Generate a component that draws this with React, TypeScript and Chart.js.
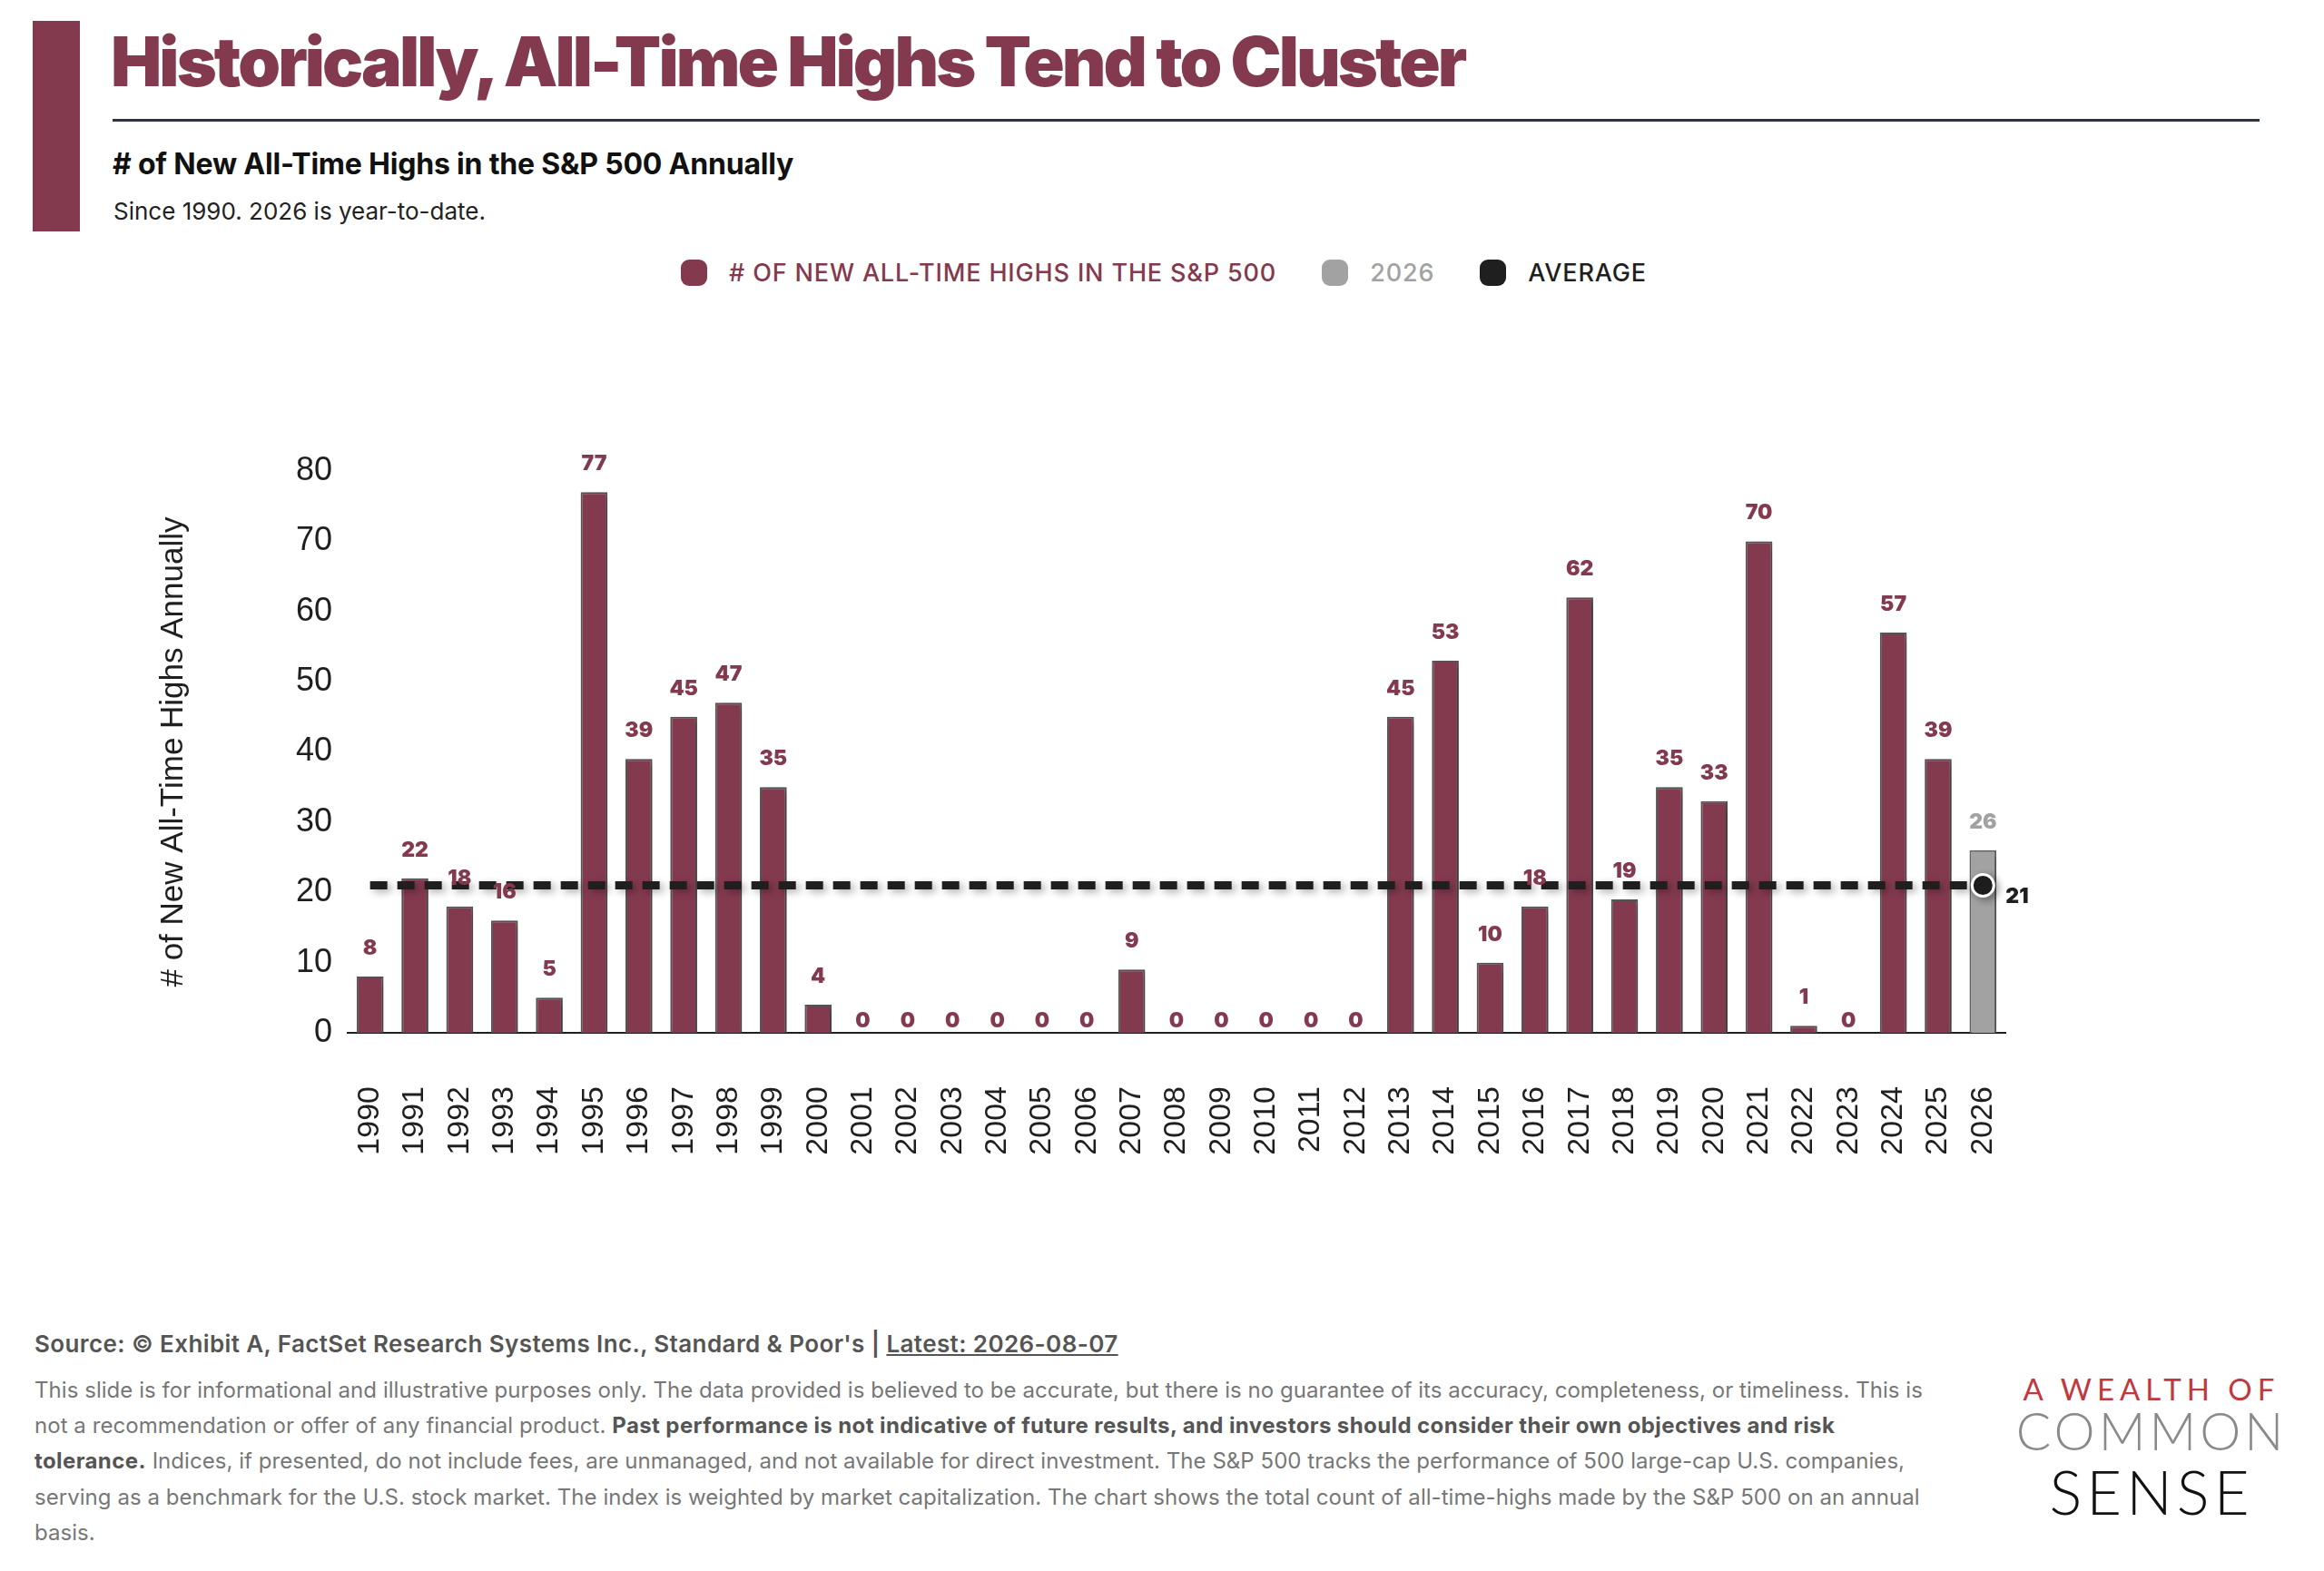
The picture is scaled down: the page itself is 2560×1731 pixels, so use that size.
import React, { useEffect, useRef } from "react";
import { Chart, registerables } from "chart.js";

Chart.register(...registerables);

const years = [
  "1990", "1991", "1992", "1993", "1994", "1995", "1996", "1997", "1998", "1999",
  "2000", "2001", "2002", "2003", "2004", "2005", "2006", "2007", "2008", "2009",
  "2010", "2011", "2012", "2013", "2014", "2015", "2016", "2017", "2018", "2019",
  "2020", "2021", "2022", "2023", "2024", "2025", "2026",
];
// 1990 - 2025 full-year counts
const highs = [
  8, 22, 18, 16, 5, 77, 39, 45, 47, 35,
  4, 0, 0, 0, 0, 0, 0, 9, 0, 0,
  0, 0, 0, 45, 53, 10, 18, 62, 19, 35,
  33, 70, 1, 0, 57, 39,
];
const ytdYear = "2026";
const ytdValue = 26;
const averageValue = 21;
const yTicks = [0, 10, 20, 30, 40, 50, 60, 70, 80];

const MAROON = "#843a4e";
const GRAY = "#a2a2a2";
const BLACK = "#1f1f1f";

const mainData = years.map((y, i) => (y === ytdYear ? null : highs[i]));
const ytdData = years.map((y) => (y === ytdYear ? ytdValue : null));
const avgData = years.map(() => averageValue);

const shadowPlugin = {
  id: "shadow",
  beforeDatasetDraw(chart: any) {
    const ctx = chart.ctx;
    ctx.save();
    ctx.shadowColor = "rgba(0,0,0,0.32)";
    ctx.shadowBlur = 9;
    ctx.shadowOffsetX = 4;
    ctx.shadowOffsetY = 3;
  },
  afterDatasetDraw(chart: any) {
    chart.ctx.restore();
  },
};

const labelPlugin = {
  id: "valueLabels",
  afterDatasetsDraw(chart: any) {
    const ctx = chart.ctx;
    ctx.save();
    chart.data.datasets.forEach((ds: any, di: number) => {
      const meta = chart.getDatasetMeta(di);
      if (ds.type === "line") {
        const n = meta.data.length;
        const pt = meta.data[n - 1];
        ctx.font = "900 23px Inter, 'Liberation Sans', sans-serif";
        ctx.fillStyle = BLACK;
        ctx.textAlign = "left";
        ctx.textBaseline = "middle";
        ctx.fillText(String(ds.data[n - 1]), pt.x + 25, pt.y + 13);
        return;
      }
      meta.data.forEach((el: any, i: number) => {
        const v = ds.data[i];
        if (v === null || v === undefined) return;
        ctx.font = "900 23px Inter, 'Liberation Sans', sans-serif";
        ctx.fillStyle = ds.labelColor;
        ctx.textAlign = "center";
        ctx.textBaseline = "middle";
        const off = v === 0 ? 13 : 31;
        ctx.fillText(String(v), el.x, el.y - off);
      });
    });
    ctx.restore();
  },
};

function ChartCanvas() {
  const ref = useRef<HTMLCanvasElement>(null);
  useEffect(() => {
    if (!ref.current) return;
    const chart = new Chart(ref.current, {
      type: "bar",
      data: {
        labels: years,
        datasets: [
          {
            type: "line",
            label: "Average",
            data: avgData,
            borderColor: BLACK,
            borderWidth: 9,
            borderDash: [19, 11],
            fill: false,
            tension: 0,
            pointRadius: years.map((_, i) => (i === years.length - 1 ? 12 : 0)),
            pointHoverRadius: 0,
            pointBackgroundColor: BLACK,
            pointBorderColor: "#ffffff",
            pointBorderWidth: 3,
            order: 0,
          } as any,
          {
            type: "bar",
            label: "# of New All-Time Highs in the S&P 500",
            data: mainData,
            backgroundColor: MAROON,
            borderColor: "#575757",
            borderWidth: 2,
            barPercentage: 0.6,
            categoryPercentage: 1,
            grouped: false,
            labelColor: MAROON,
            order: 1,
          } as any,
          {
            type: "bar",
            label: "2026",
            data: ytdData,
            backgroundColor: GRAY,
            borderColor: "#666666",
            borderWidth: 2,
            barPercentage: 0.6,
            categoryPercentage: 1,
            grouped: false,
            labelColor: GRAY,
            order: 2,
          } as any,
        ],
      },
      options: {
        animation: false,
        responsive: false,
        maintainAspectRatio: false,
        layout: { padding: { left: 0, top: 99, right: 111, bottom: 0 } },
        plugins: {
          legend: { display: false },
          tooltip: { enabled: false },
        },
        scales: {
          x: {
            offset: true,
            grid: { display: false, drawTicks: false },
            border: { display: true, color: "#1f1f1f", width: 2 },
            ticks: {
              autoSkip: false,
              minRotation: 90,
              maxRotation: 90,
              padding: 59,
              color: "#1f1f1f",
              font: { family: "'Liberation Sans', Arial, sans-serif", size: 34 },
            },
            afterFit(scale: any) {
              scale.height = 192;
            },
          },
          y: {
            min: 0,
            max: 80,
            afterBuildTicks(scale: any) {
              scale.ticks = yTicks.map((v) => ({ value: v }));
            },
            grid: { display: false, drawTicks: false },
            border: { display: false },
            ticks: {
              padding: 17,
              color: "#1f1f1f",
              font: { family: "'Liberation Sans', Arial, sans-serif", size: 36 },
            },
            title: {
              display: true,
              text: "# of New All-Time Highs Annually",
              color: "#1f1f1f",
              padding: { top: 20, bottom: 0 },
              font: { family: "'Liberation Sans', Arial, sans-serif", size: 35 },
            },
            afterFit(scale: any) {
              scale.width = 233;
            },
          },
        },
      } as any,
      plugins: [shadowPlugin, labelPlugin],
    });
    return () => chart.destroy();
  }, []);
  return (
    <canvas
      ref={ref}
      width={2170}
      height={910}
      style={{ position: "absolute", left: 150, top: 420, width: 2170, height: 910 }}
    />
  );
}

const legendItems = [
  { text: "# OF NEW ALL-TIME HIGHS IN THE S&P 500", color: MAROON },
  { text: "2026", color: GRAY },
  { text: "AVERAGE", color: BLACK },
];

export default function App() {
  const abs = (s: React.CSSProperties): React.CSSProperties => ({ position: "absolute", margin: 0, whiteSpace: "nowrap", ...s });
  const boldStyle: React.CSSProperties = { color: "#555", fontWeight: 700, letterSpacing: 0.4 };
  return (
    <div
      style={{
        position: "absolute",
        left: 0,
        top: 0,
        width: 2560,
        height: 1731,
        background: "#ffffff",
        overflow: "hidden",
        fontFamily: "Inter, 'Noto Sans', sans-serif",
      }}
    >
      <div style={abs({ left: 36, top: 23, width: 52, height: 232, background: MAROON })} />
      <div
        style={abs({
          left: 122,
          top: 30,
          fontSize: 75,
          lineHeight: "75px",
          fontWeight: 900,
          color: MAROON,
          letterSpacing: -2.9,
        })}
      >
        Historically, All-Time Highs Tend to Cluster
      </div>
      <div style={abs({ left: 124, top: 131, width: 2365, height: 3, background: "#2c3445" })} />
      <div
        style={abs({
          left: 124,
          top: 165,
          fontSize: 32,
          lineHeight: "32px",
          fontWeight: 700,
          color: "#111",
          letterSpacing: -0.2,
        })}
      >
        # of New All-Time Highs in the S&amp;P 500 Annually
      </div>
      <div
        style={abs({
          left: 125,
          top: 220,
          fontSize: 26,
          lineHeight: "26px",
          fontWeight: 400,
          color: "#222",
          letterSpacing: 0,
        })}
      >
        Since 1990. 2026 is year-to-date.
      </div>

      <div style={abs({ left: 750, top: 286, height: 29, display: "flex", alignItems: "center" })}>
        {legendItems.map((it, i) => (
          <div key={i} style={{ display: "flex", alignItems: "center", marginLeft: i === 0 ? 0 : 50 }}>
            <div style={{ width: 29, height: 29, borderRadius: 9, background: it.color }} />
            <div
              style={{
                marginLeft: 24,
                fontSize: 27,
                lineHeight: "29px",
                fontWeight: 500,
                color: it.color,
                letterSpacing: 0.85,
              }}
            >
              {it.text}
            </div>
          </div>
        ))}
      </div>

      <ChartCanvas />

      <div
        style={abs({
          left: 38,
          top: 1468,
          fontSize: 26,
          lineHeight: "26px",
          fontWeight: 600,
          color: "#555",
          letterSpacing: 0.4,
        })}
      >
        Source: © Exhibit A, FactSet Research Systems Inc., Standard &amp; Poor's |{" "}
        <span style={{ textDecoration: "underline" }}>Latest: 2026-08-07</span>
      </div>
      <div
        style={abs({
          left: 38,
          top: 1512,
          fontSize: 24,
          lineHeight: "39.2px",
          fontWeight: 400,
          color: "#777",
          letterSpacing: 0.05,
        })}
      >
        This slide is for informational and illustrative purposes only. The data provided is believed to be accurate, but there is no guarantee of its accuracy, completeness, or timeliness. This is
        <br />
        not a recommendation or offer of any financial product.{" "}
        <b style={boldStyle}>
          Past performance is not indicative of future results, and investors should consider their own objectives and risk
        </b>
        <br />
        <b style={boldStyle}>tolerance.</b> Indices, if presented, do not include fees, are unmanaged, and not available for direct investment. The S&amp;P 500 tracks the performance of 500 large-cap U.S. companies,
        <br />
        serving as a benchmark for the U.S. stock market. The index is weighted by market capitalization. The chart shows the total count of all-time-highs made by the S&amp;P 500 on an annual
        <br />
        basis.
      </div>

      <div style={abs({ left: 2180, top: 1514, width: 380, textAlign: "center", fontFamily: "Lato, 'Noto Sans', sans-serif", fontWeight: 400, fontSize: 33, lineHeight: "33px", color: "#c0393f", letterSpacing: 6 })}>
        A WEALTH OF
      </div>
      <div style={abs({ left: 2180, top: 1548, width: 380, textAlign: "center", fontFamily: "Lato, 'Noto Sans', sans-serif", fontWeight: 300, fontSize: 57, lineHeight: "57px", color: "#8a8a8a", letterSpacing: 4 })}>
        COMMON
      </div>
      <div style={abs({ left: 2180, top: 1610, width: 380, textAlign: "center", fontFamily: "Lato, 'Noto Sans', sans-serif", fontWeight: 300, fontSize: 67, lineHeight: "67px", color: "#111", letterSpacing: 5 })}>
        SENSE
      </div>
    </div>
  );
}
